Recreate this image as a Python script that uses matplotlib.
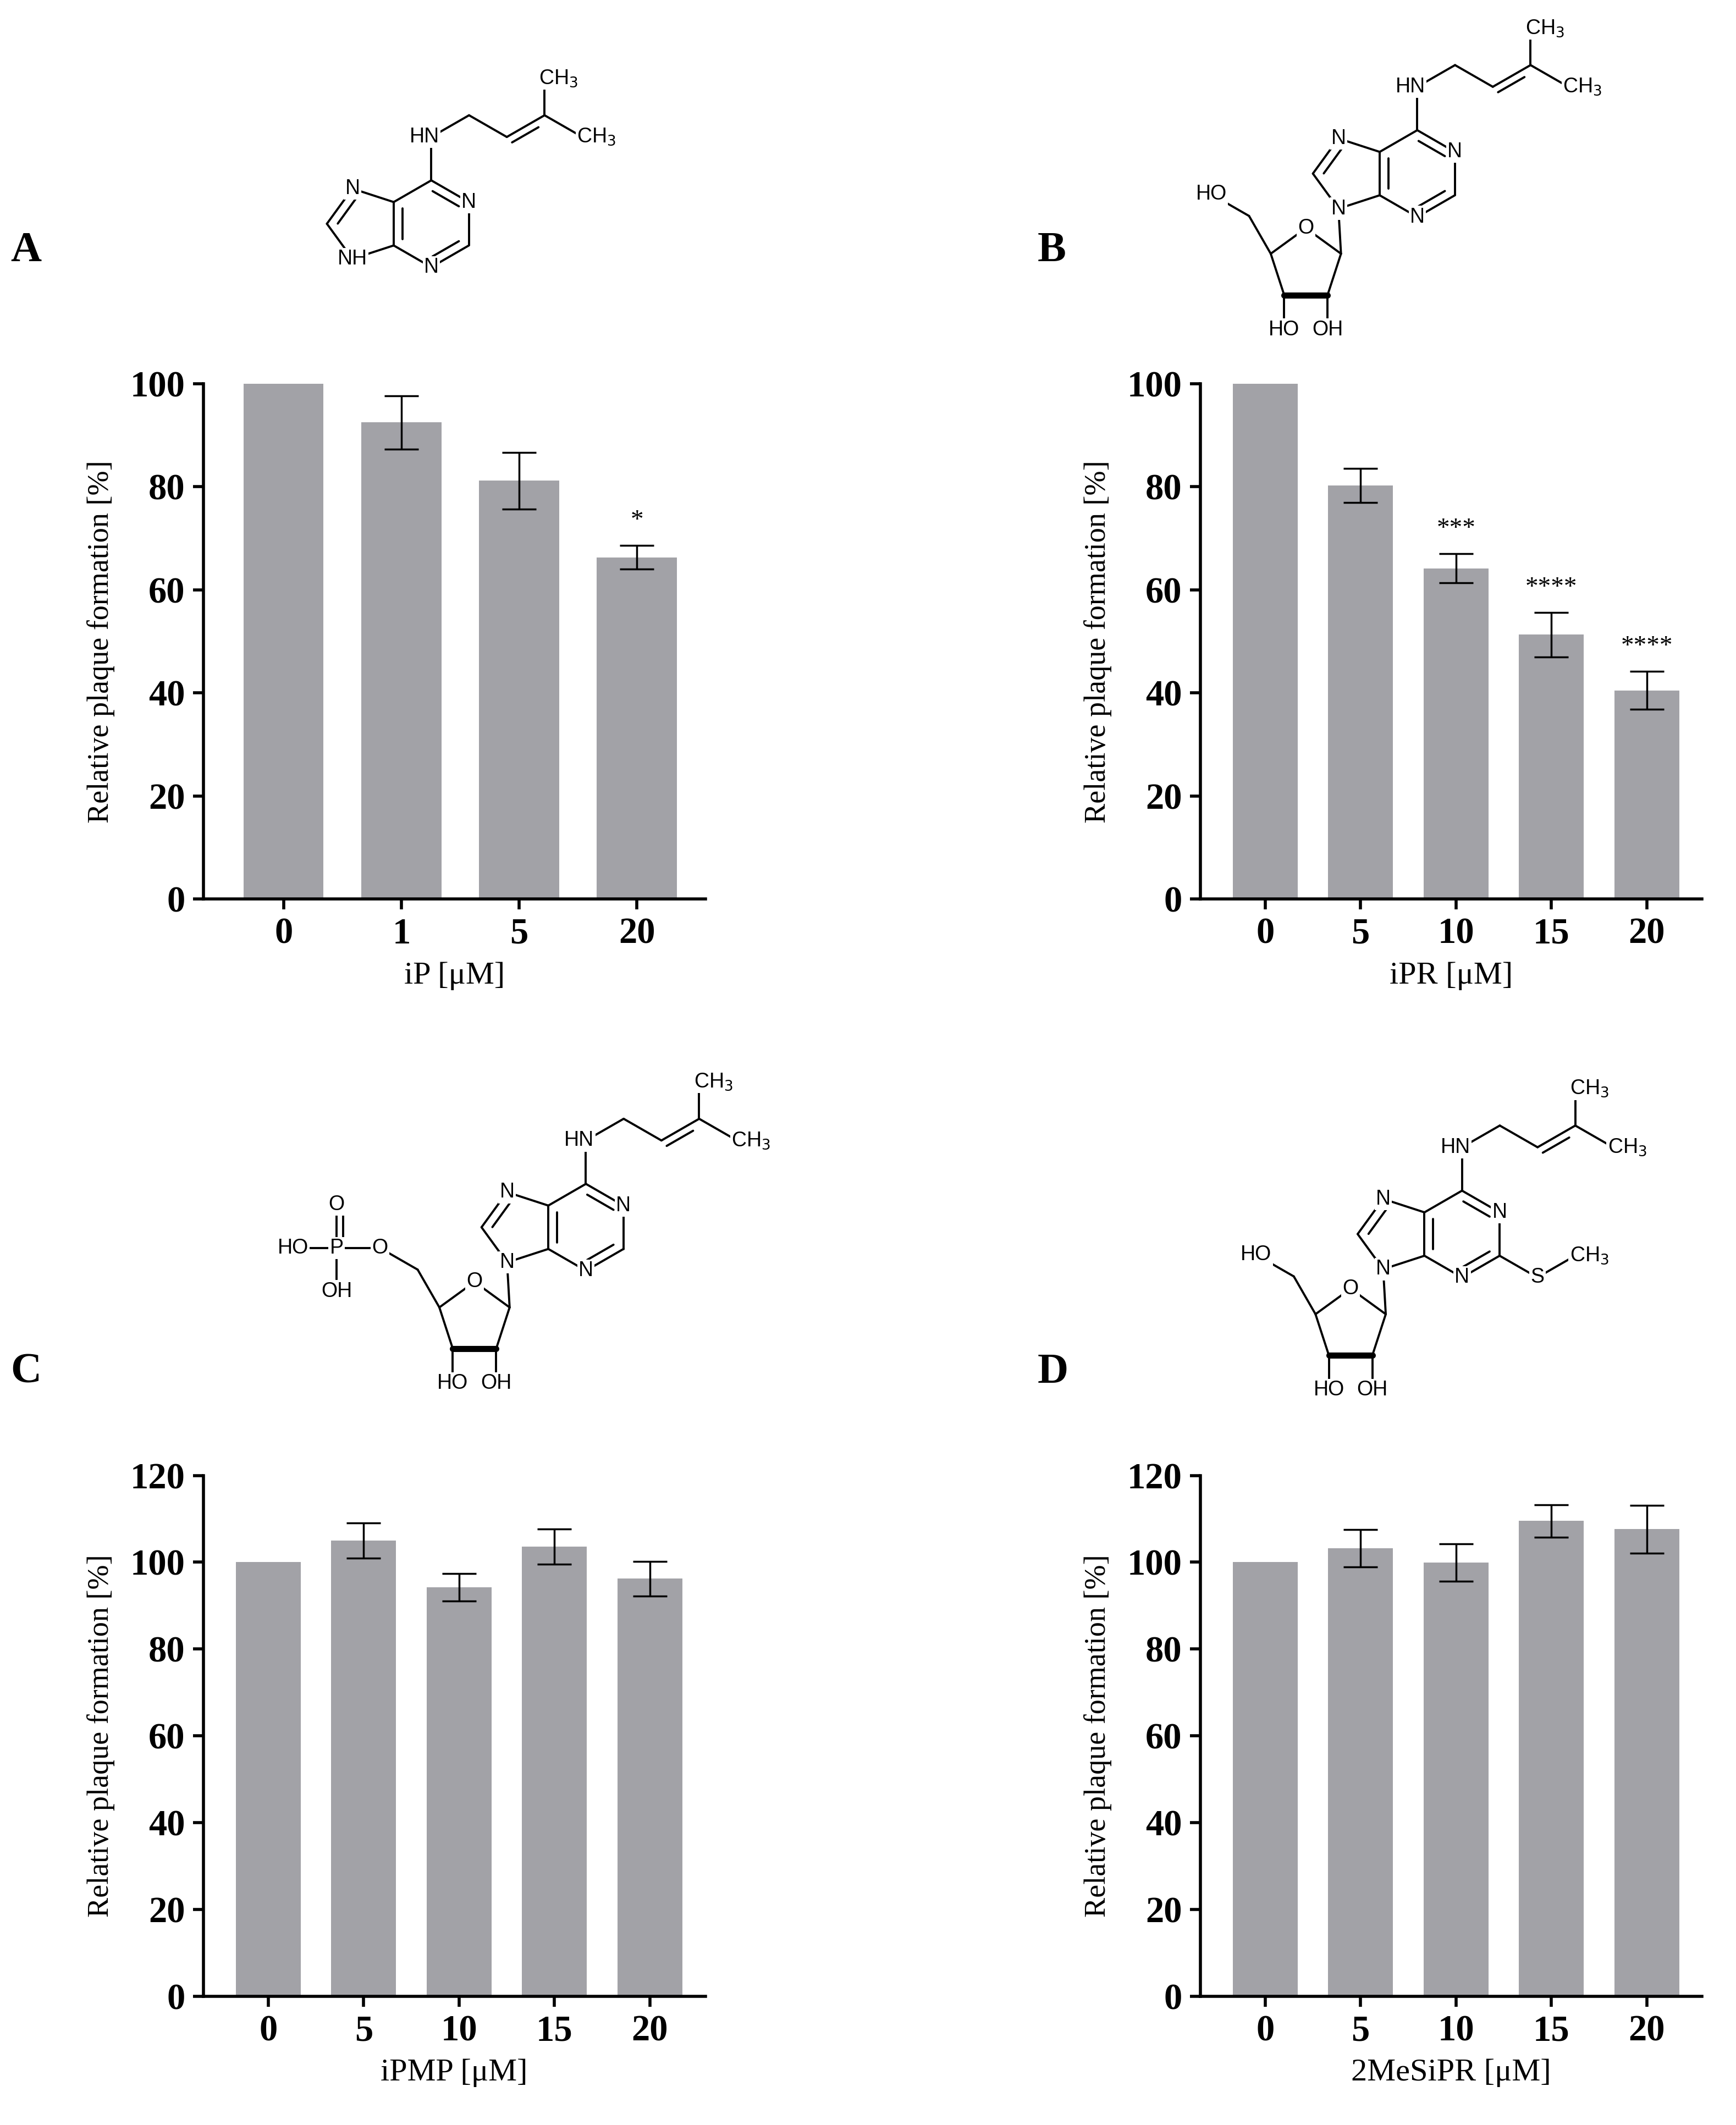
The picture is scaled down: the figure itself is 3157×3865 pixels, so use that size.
import numpy as np
import matplotlib
matplotlib.use("Agg")
import matplotlib.pyplot as plt

# ---------------- data ----------------
a_conc = ["0", "1", "5", "20"]
a_vals = [100, 92.5, 81.2, 66.3]
a_err = [0, 5.2, 5.5, 2.3]
a_sig = ["", "", "", "*"]

b_conc = ["0", "5", "10", "15", "20"]
b_vals = [100, 80.3, 64.2, 51.3, 40.5]
b_err = [0, 3.3, 2.8, 4.3, 3.7]
b_sig = ["", "", "***", "****", "****"]

c_conc = ["0", "5", "10", "15", "20"]
c_vals = [100, 105.0, 94.2, 103.6, 96.2]
c_err = [0, 4.0, 3.2, 4.0, 4.0]

d_conc = ["0", "5", "10", "15", "20"]
d_vals = [100, 103.2, 99.9, 109.5, 107.6]
d_err = [0, 4.3, 4.3, 3.7, 5.5]

W, H = 1280, 1567  # layout units (scaled reference)
fig = plt.figure(figsize=(31.57, 38.65), dpi=100)
SERIF = "Liberation Serif"
BAR = "#a2a2a7"


def panel(rect, conc, vals, err, xlabel, ymax, sig=None):
    l, t, r, b = rect
    ax = fig.add_axes([l / W, 1 - b / H, (r - l) / W, (b - t) / H])
    x = np.arange(len(conc))
    ax.bar(x, vals, width=0.68, color=BAR, zorder=2)
    e = np.array(err, dtype=float)
    m = e > 0
    ax.errorbar(x[m], np.array(vals)[m], yerr=e[m], fmt="none", ecolor="black",
                elinewidth=2.5, capsize=22, capthick=2.5, zorder=3)
    if sig:
        for xi, v, er, s in zip(x, vals, err, sig):
            if s:
                ax.text(xi, v + er + 2.5, s, ha="center", va="bottom",
                        fontsize=34, family=SERIF)
    ax.set_xlim(-0.68, len(conc) - 0.42)
    ax.set_ylim(0, ymax)
    ax.set_yticks(np.arange(0, ymax + 1, 20))
    ax.set_xticks(x)
    ax.set_xticklabels(conc)
    for s in ["top", "right"]:
        ax.spines[s].set_visible(False)
    for s in ["left", "bottom"]:
        ax.spines[s].set_linewidth(4)
    ax.tick_params(width=4, length=14, labelsize=48, pad=10)
    for lab in ax.get_xticklabels() + ax.get_yticklabels():
        lab.set_family(SERIF)
        lab.set_fontweight("bold")
    ax.set_ylabel("Relative plaque formation [%]", fontsize=39, family=SERIF, labelpad=20)
    ax.set_xlabel(xlabel, fontsize=42, family=SERIF, labelpad=14)
    return ax


panel((150, 283, 520, 663), a_conc, a_vals, a_err, "iP [μM]", 100, a_sig)
panel((885, 283, 1255, 663), b_conc, b_vals, b_err, "iPR [μM]", 100, b_sig)
panel((150, 1088, 520, 1472), c_conc, c_vals, c_err, "iPMP [μM]", 120)
panel((885, 1088, 1255, 1472), d_conc, d_vals, d_err, "2MeSiPR [μM]", 120)

for lab, (px, py) in zip("ABCD", [(8, 185), (765, 185), (8, 1012), (765, 1012)]):
    fig.text(px / W, 1 - py / H, lab, fontsize=56, fontweight="bold", family=SERIF,
             va="center", ha="left")

# ---------------- chemical structures ----------------
ov = fig.add_axes([0, 0, 1, 1])
ov.set_xlim(0, W)
ov.set_ylim(H, 0)
ov.axis("off")
LW = 2.8
FS = 27


def line(p, q, lw=LW):
    ov.plot([p[0], q[0]], [p[1], q[1]], color="black", lw=lw, solid_capstyle="round")


def inner(p, q, c, f=0.2):
    p, q, c = map(np.array, (p, q, c))
    mid = (p + q) / 2
    d = c - mid
    d = d / np.linalg.norm(d)
    off = d * f * np.linalg.norm(q - p)
    p2 = p + off + (q - p) * 0.15
    q2 = q + off - (q - p) * 0.15
    line(p2, q2)


def lab(p, s, ha="center"):
    ov.text(p[0], p[1], s, fontsize=FS, family="Liberation Sans", ha=ha, va="center",
            bbox=dict(facecolor="white", edgecolor="none", pad=1.5), zorder=5)


def pt(c, r, ang):
    a = np.deg2rad(ang)
    return np.array([c[0] + r * np.cos(a), c[1] - r * np.sin(a)])


def molecule(cx, cy, L, ribose=False, phosphate=False, sme=False):
    c = np.array([cx, cy], dtype=float)
    hx = [pt(c, L, a) for a in [90, 30, -30, -90, -150, 150]]
    C6, N1, C2, N3, C4, C5 = hx
    for i in range(6):
        line(hx[i], hx[(i + 1) % 6])
    pc = np.array([cx - L * np.cos(np.pi / 6) - 0.688 * L, cy])
    R = 0.851 * L
    N7 = pt(pc, R, 108)
    C8 = pt(pc, R, 180)
    N9 = pt(pc, R, 252)
    line(C5, N7); line(N7, C8); line(C8, N9); line(N9, C4)
    inner(C6, N1, c); inner(C2, N3, c); inner(C4, C5, c); inner(N7, C8, pc)
    lab(N1, "N"); lab(N3, "N"); lab(N7, "N")
    # side chain
    N6 = C6 + np.array([0, -L])
    line(C6, N6)
    a1 = N6 + np.array([0.87 * L, -0.5 * L])
    b1 = a1 + np.array([0.87 * L, 0.5 * L])
    c1 = b1 + np.array([0.87 * L, -0.5 * L])
    line(N6, a1); line(a1, b1); line(b1, c1)
    inner(b1, c1, b1 + np.array([0.4 * L, 0.5 * L]))
    m1 = c1 + np.array([0, -0.85 * L])
    m2 = c1 + np.array([0.87 * L, 0.5 * L])
    line(c1, m1); line(c1, m2)
    ov.text(N6[0] + 6, N6[1], "HN", fontsize=FS, family="Liberation Sans", ha="right",
            va="center", bbox=dict(facecolor="white", edgecolor="none", pad=1.5), zorder=5)
    for m in (m1, m2):
        ov.text(m[0] - 4, m[1], "CH$_3$", fontsize=FS, family="Liberation Sans",
                ha="left", va="center",
                bbox=dict(facecolor="white", edgecolor="none", pad=1.5), zorder=5)
    if sme:
        S = C2 + np.array([0.87 * L, 0.5 * L])
        Me = S + np.array([0.87 * L, -0.5 * L])
        line(C2, S); line(S, Me)
        lab(S, "S")
        ov.text(Me[0] - 4, Me[1], "CH$_3$", fontsize=FS, family="Liberation Sans",
                ha="left", va="center",
                bbox=dict(facecolor="white", edgecolor="none", pad=1.5), zorder=5)
    if not ribose:
        lab(N9, "NH")
        return
    lab(N9, "N")
    rc = N9 + np.array([-0.75 * L, 1.3 * L])
    O4 = pt(rc, R, 90)
    C1 = pt(rc, R, 18)
    C2r = pt(rc, R, -54)
    C3r = pt(rc, R, -126)
    C4r = pt(rc, R, 162)
    line(N9, C1); line(C1, O4); line(O4, C4r); line(C1, C2r); line(C3r, C4r)
    line(C2r, C3r, lw=8)
    o2 = C2r + np.array([0, 0.8 * L])
    o3 = C3r + np.array([0, 0.8 * L])
    line(C2r, o2); line(C3r, o3)
    lab(o2, "OH"); lab(o3, "HO"); lab(O4, "O")
    C5r = C4r + np.array([-0.5 * L, -0.87 * L])
    line(C4r, C5r)
    O5 = C5r + np.array([-0.87 * L, -0.5 * L])
    line(C5r, O5)
    if phosphate:
        P = O5 + np.array([-1.0 * L, 0])
        line(O5, P)
        Od = P + np.array([0, -L]); Oa = P + np.array([-L, 0]); Ob = P + np.array([0, L])
        line(P, Od); line(P + np.array([5, 0]), Od + np.array([5, 0]))
        line(P, Oa); line(P, Ob)
        lab(O5, "O"); lab(P, "P"); lab(Od, "O"); lab(Oa, "HO"); lab(Ob, "OH")
    else:
        lab(O5, "HO")


molecule(318, 165, 32)
molecule(1045, 128, 32, ribose=True)
molecule(432, 905, 32, ribose=True, phosphate=True)
molecule(1078, 910, 32, ribose=True, sme=True)

fig.savefig("out.png", dpi=100)
